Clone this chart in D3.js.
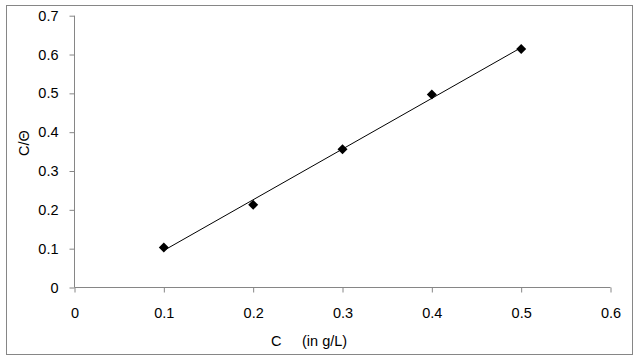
<!DOCTYPE html>
<html><head><meta charset="utf-8">
<script src="https://cdn.jsdelivr.net/npm/d3@7"></script>
<style>
body{margin:0;background:#fff;}
svg text{font-family:"Liberation Sans","DejaVu Sans",sans-serif;fill:#000;}
</style></head>
<body>
<svg id="c" width="639" height="360"></svg>
<script>
const concentration = [0.1, 0.2, 0.3, 0.4, 0.5];
const cOverTheta = [0.103, 0.213, 0.356, 0.497, 0.614];
const xTicks = [0, 0.1, 0.2, 0.3, 0.4, 0.5, 0.6];
const yTicks = [0, 0.1, 0.2, 0.3, 0.4, 0.5, 0.6, 0.7];
const xTitleParts = ["C", "(in g/L)"];
const yTitle = "C/\u0398";

const fs = "14.5px";
const svg = d3.select("#c");
svg.append("rect").attr("x",6.5).attr("y",5.5).attr("width",626).attr("height",349)
  .attr("fill","#fff").attr("stroke","#868686").attr("stroke-width",1);

const x = d3.scaleLinear().domain([0,0.6]).range([74.5,610.5]);
const y = d3.scaleLinear().domain([0,0.7]).range([287.5,15.7]);
const axisColor = "#868686";
const fmt = d=>String(+d.toFixed(1));

// Y axis
const ya = svg.append("g").attr("transform","translate(74.5,0)")
  .call(d3.axisLeft(y).tickValues(yTicks).tickSize(5).tickSizeOuter(0).tickPadding(11).tickFormat(fmt));
ya.select(".domain").attr("stroke",axisColor).attr("d","M0,"+y(0.7)+"V"+y(0));
ya.selectAll(".tick line").attr("stroke",axisColor);
ya.selectAll("text").attr("font-size",fs).attr("font-family","Liberation Sans, sans-serif");

// X axis
const xa = svg.append("g").attr("transform","translate(0,287.5)")
  .call(d3.axisBottom(x).tickValues(xTicks).tickSize(5).tickSizeOuter(0).tickPadding(15).tickFormat(fmt));
xa.select(".domain").attr("stroke",axisColor).attr("d","M"+x(0)+",0H"+x(0.6));
xa.selectAll(".tick line").attr("stroke",axisColor);
xa.selectAll("text").attr("font-size",fs).attr("font-family","Liberation Sans, sans-serif");

// Trendline (linear least squares)
const n = concentration.length;
const mx = d3.mean(concentration), my = d3.mean(cOverTheta);
let sxy=0, sxx=0;
for(let i=0;i<n;i++){sxy+=(concentration[i]-mx)*(cOverTheta[i]-my);sxx+=(concentration[i]-mx)**2;}
const slope = sxy/sxx, icpt = my - slope*mx;
const x0 = d3.min(concentration), x1 = d3.max(concentration);
svg.append("line").attr("x1",x(x0)).attr("y1",y(icpt+slope*x0))
  .attr("x2",x(x1)).attr("y2",y(icpt+slope*x1))
  .attr("stroke","#000").attr("stroke-width",1);

// Markers
svg.append("g").selectAll("path").data(concentration).join("path")
  .attr("transform",(d,i)=>`translate(${x(d)},${y(cOverTheta[i])})`)
  .attr("d","M0,-5L5,0L0,5L-5,0Z").attr("fill","#000");

// Titles
const xt = svg.append("text").attr("y",346).attr("font-size",fs);
xt.append("tspan").attr("x",271).text(xTitleParts[0]);
xt.append("tspan").attr("x",302).text(xTitleParts[1]);
svg.append("text").attr("transform","translate(29,143) rotate(-90)").attr("text-anchor","middle")
  .attr("font-size",fs).text(yTitle);
</script>
</body></html>
